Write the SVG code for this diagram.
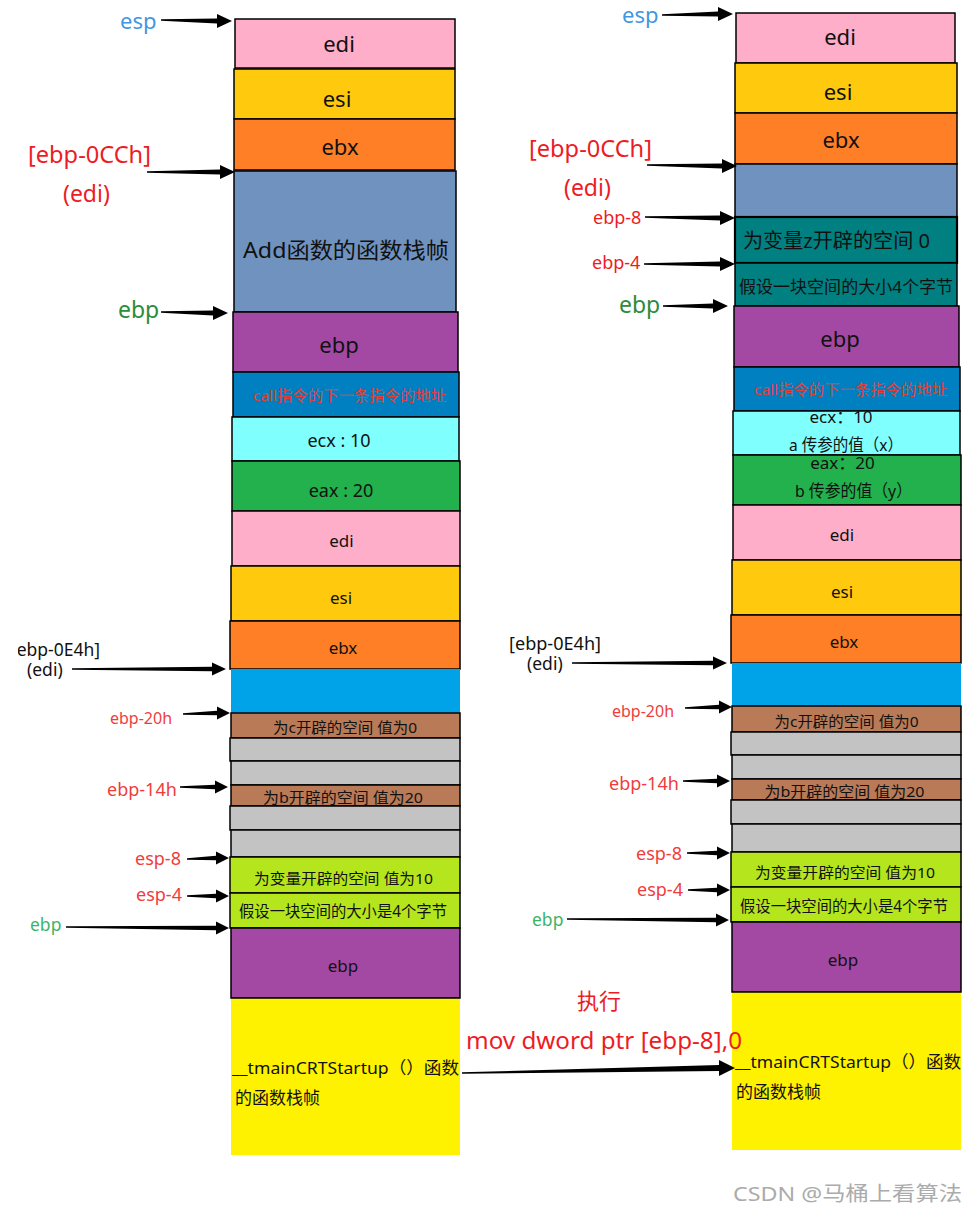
<svg xmlns="http://www.w3.org/2000/svg" width="979" height="1214" viewBox="0 0 979 1214">
<style>
.t{font-family:"Noto Sans","Noto Sans CJK SC",sans-serif;fill:#111}
.c{text-anchor:middle}
.bx{stroke:#000;stroke-width:1.5}
.nb{stroke:none}
.pink{fill:#ffaec9}.org{fill:#ffc90e}.ora{fill:#ff7f27}.stl{fill:#7092be}.pur{fill:#a349a4}
.cb{fill:#0080c0}.cy{fill:#80ffff}.gr{fill:#22b14c}.lb{fill:#00a2e8}.br{fill:#b97a57}
.gy{fill:#c3c3c3}.yg{fill:#b5e61d}.ye{fill:#fff200}.tl{fill:#008080}
.red{fill:#ed1c24}.lred{fill:#f03c3c}.blu{fill:#3f97e3}.grn{fill:#2e8b37}.lgrn{fill:#3cb468}
.cr{fill:#e2403a}
.arr{fill:#000}
</style>
<defs>
<clipPath id="clipL"><rect x="18" y="620" width="200" height="70"/></clipPath>
</defs>

<!-- Left column -->
<g id="L-edi"><rect class="bx pink" x="235" y="19" width="220" height="49"/><text class="t c" x="339" y="52" font-size="22">edi</text></g>
<g id="L-esi"><rect class="bx org" x="234" y="69" width="221" height="50"/><text class="t c" x="337" y="107" font-size="22">esi</text></g>
<g id="L-ebx"><rect class="bx ora" x="234" y="119" width="221" height="51"/><text class="t c" x="340" y="155" font-size="22">ebx</text></g>
<g id="L-add"><rect class="bx stl" x="234" y="171" width="222" height="141"/><text class="t c" x="346" y="258" font-size="22" textLength="206" lengthAdjust="spacingAndGlyphs">Add函数的函数栈帧</text></g>
<g id="L-ebp1"><rect class="bx pur" x="233" y="312" width="225" height="60"/><text class="t c" x="339" y="353" font-size="22">ebp</text></g>
<g id="L-call"><rect class="bx cb" x="233" y="372" width="226" height="45"/><text class="t c cr" x="349.5" y="401" font-size="15" textLength="193" lengthAdjust="spacingAndGlyphs">call指令的下一条指令的地址</text></g>
<g id="L-ecx"><rect class="bx cy" x="232" y="417" width="227" height="44"/><text class="t c" x="339" y="447" font-size="18">ecx : 10</text></g>
<g id="L-eax"><rect class="bx gr" x="232" y="461" width="228" height="50"/><text class="t c" x="341" y="497" font-size="18">eax : 20</text></g>
<g id="L-edi2"><rect class="bx pink" x="232" y="511" width="228" height="55"/><text class="t c" x="341.5" y="547" font-size="17">edi</text></g>
<g id="L-esi2"><rect class="bx org" x="231" y="566" width="229" height="55"/><text class="t c" x="341" y="604" font-size="17">esi</text></g>
<g id="L-ebx2"><rect class="bx ora" x="230" y="621" width="230" height="48"/><text class="t c" x="343" y="654" font-size="17">ebx</text></g>
<g id="L-blue"><rect class="nb lb" x="231" y="669" width="229" height="44"/></g>
<g id="L-c"><rect class="bx br" x="231" y="713" width="229" height="25"/><text class="t c" x="345" y="733" font-size="15" textLength="144" lengthAdjust="spacingAndGlyphs">为c开辟的空间 值为0</text></g>
<g id="L-g1"><rect class="bx gy" x="230" y="738" width="230" height="23"/></g>
<g id="L-g2"><rect class="bx gy" x="231" y="761" width="229" height="24"/></g>
<g id="L-b"><rect class="bx br" x="231" y="785" width="229" height="21"/><text class="t c" x="343" y="803" font-size="15" textLength="160" lengthAdjust="spacingAndGlyphs">为b开辟的空间  值为20</text></g>
<g id="L-g3"><rect class="bx gy" x="230" y="806" width="230" height="24"/></g>
<g id="L-g4"><rect class="bx gy" x="231" y="830" width="229" height="27"/></g>
<g id="L-v10"><rect class="bx yg" x="230" y="857" width="230" height="36"/><text class="t c" x="343.5" y="884" font-size="15" textLength="179" lengthAdjust="spacingAndGlyphs">为变量开辟的空间  值为10</text></g>
<g id="L-v4"><rect class="bx yg" x="230" y="893" width="230" height="35"/><text class="t c" x="343" y="917" font-size="15.5" textLength="208" lengthAdjust="spacingAndGlyphs">假设一块空间的大小是4个字节</text></g>
<g id="L-ebp2"><rect class="bx pur" x="231" y="928" width="229" height="70"/><text class="t c" x="343" y="972" font-size="17">ebp</text></g>
<g id="L-main"><rect class="nb ye" x="231" y="998" width="229" height="157"/><line x1="231" y1="998" x2="460" y2="998" stroke="#000" stroke-width="1.5"/><text class="t" x="232" y="1074" font-size="17" textLength="227" lengthAdjust="spacingAndGlyphs">__tmainCRTStartup（）函数</text><text class="t" x="235" y="1104" font-size="17">的函数栈帧</text></g>

<!-- Right column -->
<g id="R-edi"><rect class="bx pink" x="736" y="13" width="219" height="50"/><text class="t c" x="840" y="45" font-size="22">edi</text></g>
<g id="R-esi"><rect class="bx org" x="735" y="63" width="222" height="50"/><text class="t c" x="838" y="100" font-size="22">esi</text></g>
<g id="R-ebx"><rect class="bx ora" x="735" y="113" width="222" height="51"/><text class="t c" x="841" y="148" font-size="22">ebx</text></g>
<g id="R-blue"><rect class="bx stl" x="735" y="164" width="222" height="53"/></g>
<g id="R-z"><rect class="tl" x="735" y="217" width="222" height="46" stroke="#000" stroke-width="2.2"/><text class="t" x="743" y="248" font-size="20" textLength="187" lengthAdjust="spacingAndGlyphs">为变量z开辟的空间 0</text></g>
<g id="R-v4"><rect class="bx tl" x="735" y="263" width="222" height="43"/><text class="t" x="739" y="293" font-size="17" textLength="214" lengthAdjust="spacingAndGlyphs">假设一块空间的大小4个字节</text></g>
<g id="R-ebp1"><rect class="bx pur" x="734" y="306" width="225" height="61"/><text class="t c" x="840" y="347" font-size="22">ebp</text></g>
<g id="R-call"><rect class="bx cb" x="734" y="367" width="226" height="44"/><text class="t c cr" x="850.5" y="395" font-size="15" textLength="193" lengthAdjust="spacingAndGlyphs">call指令的下一条指令的地址</text></g>
<g id="R-ecx"><rect class="bx cy" x="733" y="411" width="227" height="44"/><text class="t c" x="841" y="423" font-size="17">ecx：10</text><text class="t c" x="846" y="451" font-size="16.5" textLength="114" lengthAdjust="spacingAndGlyphs">a 传参的值（x）</text></g>
<g id="R-eax"><rect class="bx gr" x="733" y="455" width="228" height="50"/><text class="t c" x="842.5" y="469" font-size="17">eax：20</text><text class="t c" x="853.5" y="497" font-size="17" textLength="117" lengthAdjust="spacingAndGlyphs">b 传参的值（y）</text></g>
<g id="R-edi2"><rect class="bx pink" x="733" y="505" width="228" height="55"/><text class="t c" x="842" y="541" font-size="17">edi</text></g>
<g id="R-esi2"><rect class="bx org" x="732" y="560" width="229" height="55"/><text class="t c" x="842" y="598" font-size="17">esi</text></g>
<g id="R-ebx2"><rect class="bx ora" x="731" y="615" width="230" height="48"/><text class="t c" x="844" y="648" font-size="17">ebx</text></g>
<g id="R-blue2"><rect class="nb lb" x="732" y="663" width="229" height="43"/></g>
<g id="R-c"><rect class="bx br" x="732" y="706" width="229" height="26"/><text class="t c" x="846.5" y="727" font-size="15" textLength="144" lengthAdjust="spacingAndGlyphs">为c开辟的空间 值为0</text></g>
<g id="R-g1"><rect class="bx gy" x="731" y="732" width="230" height="23"/></g>
<g id="R-g2"><rect class="bx gy" x="732" y="755" width="229" height="24"/></g>
<g id="R-b"><rect class="bx br" x="732" y="779" width="229" height="21"/><text class="t c" x="844.5" y="797" font-size="15" textLength="160" lengthAdjust="spacingAndGlyphs">为b开辟的空间  值为20</text></g>
<g id="R-g3"><rect class="bx gy" x="731" y="800" width="230" height="24"/></g>
<g id="R-g4"><rect class="bx gy" x="732" y="824" width="229" height="28"/></g>
<g id="R-v10"><rect class="bx yg" x="731" y="852" width="230" height="35"/><text class="t c" x="845" y="878" font-size="15" textLength="180" lengthAdjust="spacingAndGlyphs">为变量开辟的空间  值为10</text></g>
<g id="R-v4b"><rect class="bx yg" x="731" y="887" width="230" height="35"/><text class="t c" x="844" y="912" font-size="15.5" textLength="208" lengthAdjust="spacingAndGlyphs">假设一块空间的大小是4个字节</text></g>
<g id="R-ebp2"><rect class="bx pur" x="732" y="922" width="229" height="70"/><text class="t c" x="843" y="966" font-size="17">ebp</text></g>
<g id="R-main"><rect class="nb ye" x="732" y="992" width="229" height="158"/><line x1="732" y1="992" x2="961" y2="992" stroke="#000" stroke-width="1.5"/><text class="t" x="735" y="1068" font-size="17" textLength="226" lengthAdjust="spacingAndGlyphs">__tmainCRTStartup（）函数</text><text class="t" x="736" y="1098" font-size="17">的函数栈帧</text></g>

<!-- Labels left -->
<g id="labels-left">
<text class="t blu" x="120" y="29" font-size="22">esp</text>
<text class="t red" x="28" y="163" font-size="23" textLength="123" lengthAdjust="spacingAndGlyphs">[ebp-0CCh]</text>
<text class="t red" x="63" y="202" font-size="23">(edi)</text>
<text class="t grn" x="118" y="318" font-size="23">ebp</text>
<text class="t" x="100" y="656" font-size="17.5" text-anchor="end" clip-path="url(#clipL)">[ebp-0E4h]</text>
<text class="t" x="27" y="676" font-size="17.5">(edi)</text>
<text class="t lred" x="110" y="724" font-size="16">ebp-20h</text>
<text class="t lred" x="107" y="796" font-size="18">ebp-14h</text>
<text class="t lred" x="135" y="865" font-size="18">esp-8</text>
<text class="t lred" x="136" y="901" font-size="18">esp-4</text>
<text class="t lgrn" x="30" y="931" font-size="17.5">ebp</text>
</g>

<!-- Labels right -->
<g id="labels-right">
<text class="t blu" x="622" y="23" font-size="22">esp</text>
<text class="t red" x="529" y="157" font-size="23" textLength="123" lengthAdjust="spacingAndGlyphs">[ebp-0CCh]</text>
<text class="t red" x="564" y="196" font-size="23">(edi)</text>
<text class="t red" x="593" y="224" font-size="18">ebp-8</text>
<text class="t red" x="592" y="269" font-size="18">ebp-4</text>
<text class="t grn" x="619" y="313" font-size="23">ebp</text>
<text class="t" x="509" y="650" font-size="17.5" textLength="92" lengthAdjust="spacingAndGlyphs">[ebp-0E4h]</text>
<text class="t" x="527" y="670" font-size="17.5">(edi)</text>
<text class="t lred" x="612" y="717" font-size="16">ebp-20h</text>
<text class="t lred" x="609" y="790" font-size="18">ebp-14h</text>
<text class="t lred" x="636" y="860" font-size="18">esp-8</text>
<text class="t lred" x="637" y="896" font-size="18">esp-4</text>
<text class="t lgrn" x="532" y="926" font-size="17.5">ebp</text>
</g>

<g id="middle">
<text class="t red" x="577" y="1009" font-size="22">执行</text>
<text class="t red" x="466" y="1049" font-size="24" textLength="276" lengthAdjust="spacingAndGlyphs">mov dword ptr [ebp-8],0</text>
</g>

<!-- Connectors -->
<g id="connectors">
<path class="arr" d="M161 19.2 L217 18.5 L217 14 L232 21 L217 28 L217 23.5 L161 20.8 Z"/>
<path class="arr" d="M147 171.2 L220 169.5 L220 165 L235 172 L220 179 L220 174.5 L147 172.8 Z"/>
<path class="arr" d="M161 311.2 L213 310.5 L213 306 L228 313 L213 320 L213 315.5 L161 312.8 Z"/>
<path class="arr" d="M72 668.3 L212 666.8 L212 662.5 L226 669 L212 675.5 L212 671.2 L72 669.7 Z"/>
<path class="arr" d="M183 713.3 L217 710.8 L217 706.5 L230 713 L217 719.5 L217 715.2 L183 714.7 Z"/>
<path class="arr" d="M180 786.3 L215 784.8 L215 780.5 L228 787 L215 793.5 L215 789.2 L180 787.7 Z"/>
<path class="arr" d="M187 858.3 L216 855.8 L216 851.5 L229 858 L216 864.5 L216 860.2 L187 859.7 Z"/>
<path class="arr" d="M187 895.3 L216 893.8 L216 889.5 L229 896 L216 902.5 L216 898.2 L187 896.7 Z"/>
<path class="arr" d="M66 926.3 L216 925.8 L216 921.5 L229 928 L216 934.5 L216 930.2 L66 927.7 Z"/>
<path class="arr" d="M462 1072.3 L719 1065 L719 1060 L735 1068 L719 1076 L719 1071 L462 1073.7 Z"/>
<path class="arr" d="M662 14.2 L718 11.5 L718 7 L733 14 L718 21 L718 16.5 L662 15.8 Z"/>
<path class="arr" d="M647 164.2 L722 163.5 L722 159 L737 166 L722 173 L722 168.5 L647 165.8 Z"/>
<path class="arr" d="M645 216.2 L720 215.5 L720 211 L735 218 L720 225 L720 220.5 L645 217.8 Z"/>
<path class="arr" d="M644 263.2 L720 261.5 L720 257 L735 264 L720 271 L720 266.5 L644 264.8 Z"/>
<path class="arr" d="M663 305.2 L713 303.5 L713 299 L728 306 L713 313 L713 308.5 L663 306.8 Z"/>
<path class="arr" d="M572 662.3 L713 660.8 L713 656.5 L727 663 L713 669.5 L713 665.2 L572 663.7 Z"/>
<path class="arr" d="M685 707.3 L719 704.8 L719 700.5 L732 707 L719 713.5 L719 709.2 L685 708.7 Z"/>
<path class="arr" d="M683 780.3 L717 778.8 L717 774.5 L730 781 L717 787.5 L717 783.2 L683 781.7 Z"/>
<path class="arr" d="M687 852.3 L717 850.8 L717 846.5 L730 853 L717 859.5 L717 855.2 L687 853.7 Z"/>
<path class="arr" d="M688 889.3 L717 887.8 L717 883.5 L730 890 L717 896.5 L717 892.2 L688 890.7 Z"/>
<path class="arr" d="M567 918.3 L716 917.8 L716 913.5 L729 920 L716 926.5 L716 922.2 L567 919.7 Z"/>
</g>

<text class="t" x="733" y="1201" font-size="20" style="fill:#ababab" textLength="229" lengthAdjust="spacingAndGlyphs">CSDN @马桶上看算法</text>
</svg>
